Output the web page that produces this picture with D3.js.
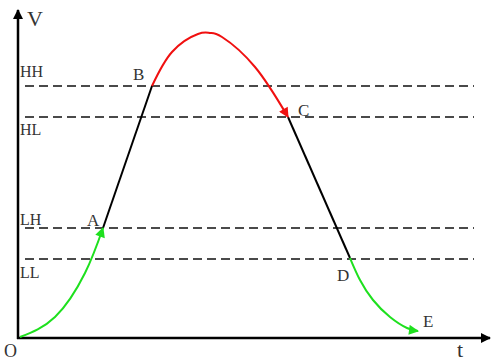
<!DOCTYPE html>
<html>
<head>
<meta charset="utf-8">
<script src="https://cdn.jsdelivr.net/npm/d3@7"></script>
<style>
  body { margin: 0; background: #fff; }
  text { font-family: "Liberation Serif", "DejaVu Serif", serif; fill: #333; }
</style>
</head>
<body>
<svg id="chart" width="493" height="362"></svg>
<script>
// threshold levels (V)
var levelNames = ["HH", "HL", "LH", "LL"];
var levelValues = [25.2, 22.1, 11.0, 7.9];

// rising green part O -> A
var riseT = [0.2, 3.7, 6.7, 8.5];
var riseV = [0.1, 2.1, 6.5, 11.0];

// red top part B -> C
var topT = [13.4, 15.4, 18.0, 19.2, 20.4, 23.7, 27.0];
var topV = [25.2, 28.6, 30.4, 30.5, 30.1, 27.1, 22.1];

// falling green part D -> E
var fallT = [33.2, 34.2, 35.5, 37.2, 38.9, 40.0];
var fallV = [8.0, 5.8, 3.8, 2.1, 1.0, 0.7];

// named points
var pointNames = ["A", "B", "C", "D", "E"];
var pointT = [8.5, 13.4, 27.0, 33.2, 40.0];
var pointV = [11.0, 25.2, 22.1, 8.0, 0.7];

var svg = d3.select("#chart");

var x = d3.scaleLinear().domain([0, 47.3]).range([18, 491]);
var y = d3.scaleLinear().domain([0, 33]).range([338, 8]);

var defs = svg.append("defs");
function arrowMarker(id, color) {
  defs.append("marker")
    .attr("id", id)
    .attr("viewBox", "0 0 10 10")
    .attr("refX", 9)
    .attr("refY", 5)
    .attr("markerUnits", "userSpaceOnUse")
    .attr("markerWidth", 12)
    .attr("markerHeight", 10)
    .attr("orient", "auto")
    .append("path")
    .attr("d", "M0,0 L10,5 L0,10 Z")
    .attr("fill", color);
}
arrowMarker("arrGreen", "#1ee01e");
arrowMarker("arrRed", "#f01010");
arrowMarker("arrBlack", "#000");

// dashed level lines
levelValues.forEach((v, i) => {
  svg.append("line")
    .attr("x1", 25).attr("x2", 474)
    .attr("y1", y(v)).attr("y2", y(v))
    .attr("stroke", "#4a4a4a")
    .attr("stroke-width", 2)
    .attr("stroke-dasharray", "9,5");
});

// level labels: HH / LH above the line, HL / LL below
var levelOffset = [-9, 18, -3, 19];
levelValues.forEach((v, i) => {
  svg.append("text")
    .attr("x", 20)
    .attr("y", y(v) + levelOffset[i])
    .attr("font-size", 16)
    .text(levelNames[i]);
});

// axes
svg.append("line")
  .attr("x1", x(0)).attr("x2", x(0))
  .attr("y1", y(0) + 1).attr("y2", y(33) + 2)
  .attr("stroke", "#000").attr("stroke-width", 2.5)
  .attr("marker-end", "url(#arrBlack)");
svg.append("line")
  .attr("x1", x(0) - 1).attr("x2", x(47.3) - 1)
  .attr("y1", y(0)).attr("y2", y(0))
  .attr("stroke", "#000").attr("stroke-width", 2.5)
  .attr("marker-end", "url(#arrBlack)");

svg.append("text").attr("x", 27).attr("y", 26).attr("font-size", 22).text("V");
svg.append("text").attr("x", 457).attr("y", 357).attr("font-size", 22).text("t");
svg.append("text").attr("x", 4).attr("y", 357).attr("font-size", 18).text("O");

var line = d3.line()
  .x((d) => x(d[0]))
  .y((d) => y(d[1]))
  .curve(d3.curveNatural);

var straight = d3.line()
  .x((d) => x(d[0]))
  .y((d) => y(d[1]));

function pairs(ts, vs) {
  return ts.map((t, i) => [t, vs[i]]);
}

// black straight segments A -> B and C -> D
svg.append("path")
  .attr("d", straight([[pointT[0], pointV[0]], [pointT[1], pointV[1]]]))
  .attr("fill", "none").attr("stroke", "#000").attr("stroke-width", 2);
svg.append("path")
  .attr("d", straight([[pointT[2], pointV[2]], [pointT[3], pointV[3]]]))
  .attr("fill", "none").attr("stroke", "#000").attr("stroke-width", 2);

svg.append("path")
  .attr("d", line(pairs(riseT, riseV)))
  .attr("fill", "none").attr("stroke", "#1ee01e").attr("stroke-width", 2)
  .attr("marker-end", "url(#arrGreen)");

svg.append("path")
  .attr("d", line(pairs(topT, topV)))
  .attr("fill", "none").attr("stroke", "#f01010").attr("stroke-width", 2)
  .attr("marker-end", "url(#arrRed)");

svg.append("path")
  .attr("d", line(pairs(fallT, fallV)))
  .attr("fill", "none").attr("stroke", "#1ee01e").attr("stroke-width", 2)
  .attr("marker-end", "url(#arrGreen)");

// point labels
var labelDx = [-16, -19, 10, -13, 5];
var labelDy = [-2, -6, -1, 23, -4];
pointNames.forEach((n, i) => {
  svg.append("text")
    .attr("x", x(pointT[i]) + labelDx[i])
    .attr("y", y(pointV[i]) + labelDy[i])
    .attr("font-size", 17)
    .text(n);
});
</script>
</body>
</html>
